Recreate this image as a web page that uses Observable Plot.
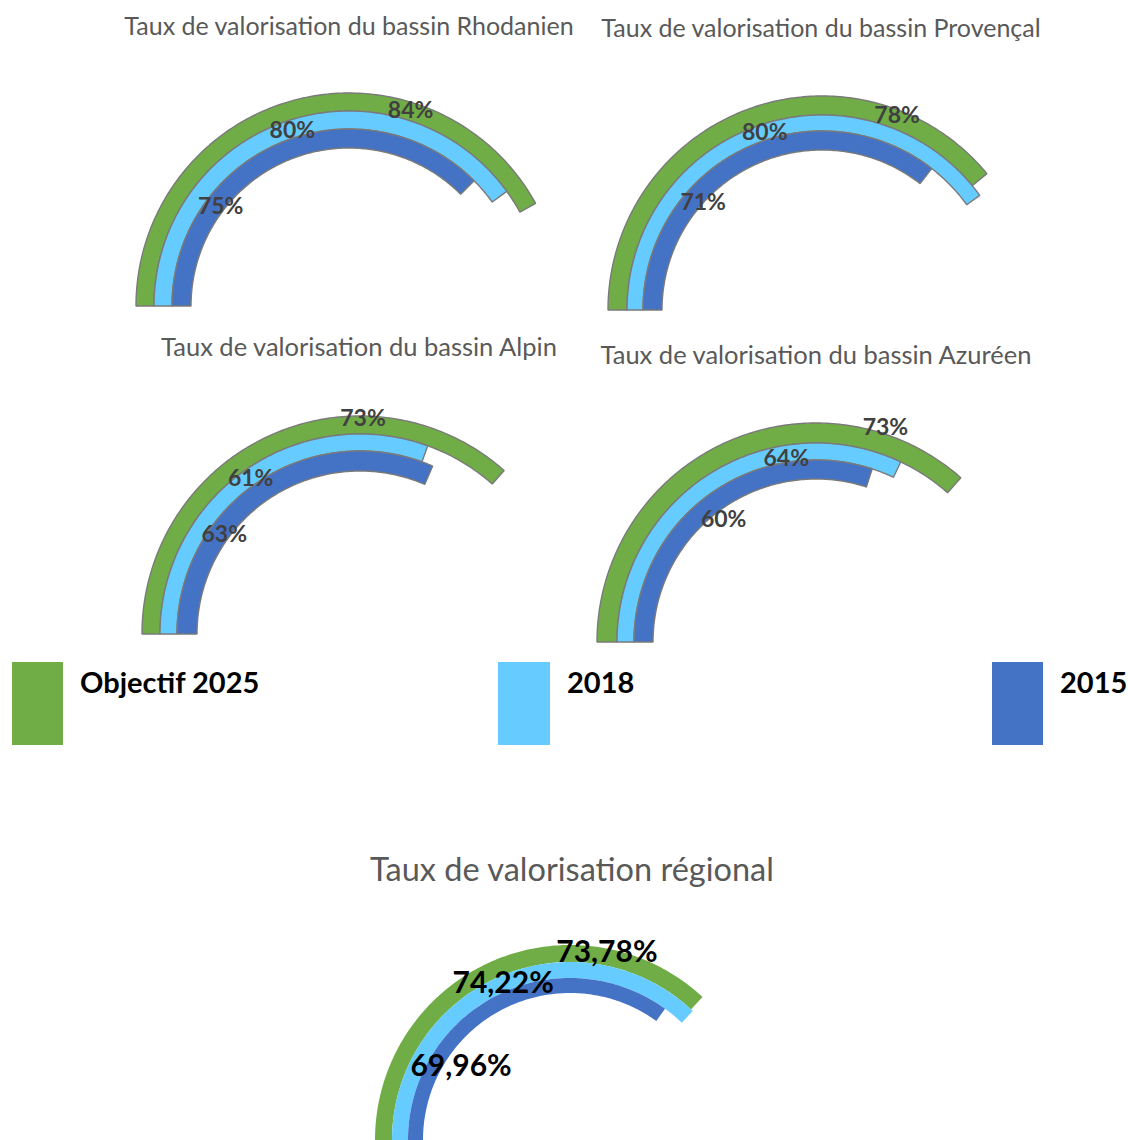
<!DOCTYPE html>
<html>
<head>
<meta charset="utf-8">
<script src="https://cdn.jsdelivr.net/npm/d3@7"></script>
<script src="https://cdn.jsdelivr.net/npm/@observablehq/plot@0.6"></script>
<style>
  html, body { margin: 0; padding: 0; background: #ffffff; }
  #page { position: relative; width: 1128px; height: 1140px; overflow: hidden; font-family: Lato, "Open Sans", sans-serif; }
  .title { position: absolute; color: #595959; white-space: nowrap; line-height: 1; transform: translateX(-50%); }
  .gauge { position: absolute; }
  .swatch { position: absolute; }
  .legtext { position: absolute; color: #000; font-weight: 700; white-space: nowrap; line-height: 1; }
</style>
</head>
<body>
<div id="page"></div>
<script>
// ---------------- DATA ----------------
const series = ["Objectif 2025", "2018", "2015"];
const seriesColors = ["#70AD47", "#66CCFF", "#4472C4"];
const bassins = ["Rhodanien", "Provençal", "Alpin", "Azuréen", "Régional"];
const titles = [
  "Taux de valorisation du bassin Rhodanien",
  "Taux de valorisation du bassin Provençal",
  "Taux de valorisation du bassin Alpin",
  "Taux de valorisation du bassin Azuréen",
  "Taux de valorisation régional"
];
const objectif2025 = [84, 78, 73, 73, 73.78];
const valeurs2018 = [80, 80, 61, 64, 74.22];
const valeurs2015 = [75, 71, 63, 60, 69.96];

// ---------------- LAYOUT ----------------
const layout = [
  {cx: 349, cy: 306, radii: [213, 195, 177, 158], labelFrac: [0.71, 0.50, 0.28], labelR: [205, 185, 163], title: {x: 349, base: 35, size: 25}, outline: true, labelSize: 23, labelColor: "#404040"},
  {cx: 822, cy: 310, radii: [214, 195, 179, 160], labelFrac: [0.79, 0.50, 0.33], labelR: [209, 187, 161], title: {x: 821, base: 37, size: 25}, outline: true, labelSize: 23, labelColor: "#404040"},
  {cx: 360, cy: 634, radii: [218, 200, 183, 163], labelFrac: [0.69, 0.50, 0.32], labelR: [216, 191, 169], title: {x: 359, base: 357, size: 25.5}, outline: true, labelSize: 23, labelColor: "#404040"},
  {cx: 816, cy: 642, radii: [219, 199, 182, 163], labelFrac: [0.82, 0.70, 0.49], labelR: [226, 186, 154], title: {x: 816, base: 365, size: 25.5}, outline: true, labelSize: 23, labelColor: "#404040"},
  {cx: 570, cy: 1140, radii: [195, 178, 162, 147], labelFrac: [0.76, 0.50, 0.27], labelR: [192, 171, 132], title: {x: 572, base: 882, size: 32.5}, outline: false, labelSize: 30, labelColor: "#000000"}
];
const legendLayout = [
  {x: 12, y: 662, w: 51, h: 83, tx: 80},
  {x: 498, y: 662, w: 52, h: 83, tx: 567},
  {x: 992, y: 662, w: 51, h: 83, tx: 1060}
];
const legendFont = 29;

const page = document.getElementById("page");
const fmt = v => (Number.isInteger(v) ? String(v) : v.toFixed(2).replace(".", ",")) + "%";
const ASC = 0.887; // baseline offset for line-height 1 (Lato)

const W = 520, H = 280, CX = 260, CY = 262;

bassins.forEach((b, i) => {
  const L = layout[i];
  const vals = [objectif2025[i], valeurs2018[i], valeurs2015[i]];
  const rings = [];
  series.forEach((s, k) => {
    const ro = L.radii[k], ri = L.radii[k + 1];
    const sweep = vals[k] / 100 * Math.PI;
    const n = 160;
    for (let j = 0; j <= n; j++) {
      const th = Math.PI - sweep * j / n;
      rings.push({serie: s, xo: ro * Math.cos(th), yo: ro * Math.sin(th), xi: ri * Math.cos(th), yi: ri * Math.sin(th)});
    }
  });
  const labels = series.map((s, k) => {
    const th = Math.PI - vals[k] / 100 * Math.PI * L.labelFrac[k];
    const r = L.labelR[k];
    return {serie: s, text: fmt(vals[k]), x: r * Math.cos(th), y: r * Math.sin(th)};
  });

  const chart = Plot.plot({
    width: W,
    height: H,
    margin: 0,
    x: {domain: [-CX, W - CX], range: [0, W], axis: null},
    y: {domain: [-(H - CY), CY], range: [H, 0], axis: null},
    color: {domain: series, range: seriesColors},
    style: {background: "transparent", fontFamily: "Lato, 'Open Sans', sans-serif", overflow: "visible"},
    marks: [
      Plot.area(rings, {
        x1: "xo", y1: "yo", x2: "xi", y2: "yi",
        z: "serie", fill: "serie",
        stroke: L.outline ? "#7a7a7a" : "none",
        strokeWidth: 1.4, strokeLinejoin: "miter"
      }),
      Plot.text(labels, {
        x: "x", y: "y", text: "text",
        fontSize: L.labelSize, fontWeight: 700, fill: L.labelColor
      })
    ]
  });
  const holder = document.createElement("div");
  holder.className = "gauge";
  holder.style.left = (L.cx - CX) + "px";
  holder.style.top = (L.cy - CY) + "px";
  holder.appendChild(chart);
  page.appendChild(holder);

  const t = document.createElement("div");
  t.className = "title";
  t.textContent = titles[i];
  t.style.fontSize = L.title.size + "px";
  t.style.left = L.title.x + "px";
  t.style.top = (L.title.base - ASC * L.title.size) + "px";
  page.appendChild(t);
});

// Legend
series.forEach((s, k) => {
  const g = legendLayout[k];
  const sw = document.createElement("div");
  sw.className = "swatch";
  sw.style.left = g.x + "px";
  sw.style.top = g.y + "px";
  sw.style.width = g.w + "px";
  sw.style.height = g.h + "px";
  sw.style.background = seriesColors[k];
  page.appendChild(sw);
  const tx = document.createElement("div");
  tx.className = "legtext";
  tx.textContent = s;
  tx.style.fontSize = legendFont + "px";
  tx.style.left = g.tx + "px";
  tx.style.top = (693 - ASC * legendFont) + "px";
  page.appendChild(tx);
});
</script>
</body>
</html>
